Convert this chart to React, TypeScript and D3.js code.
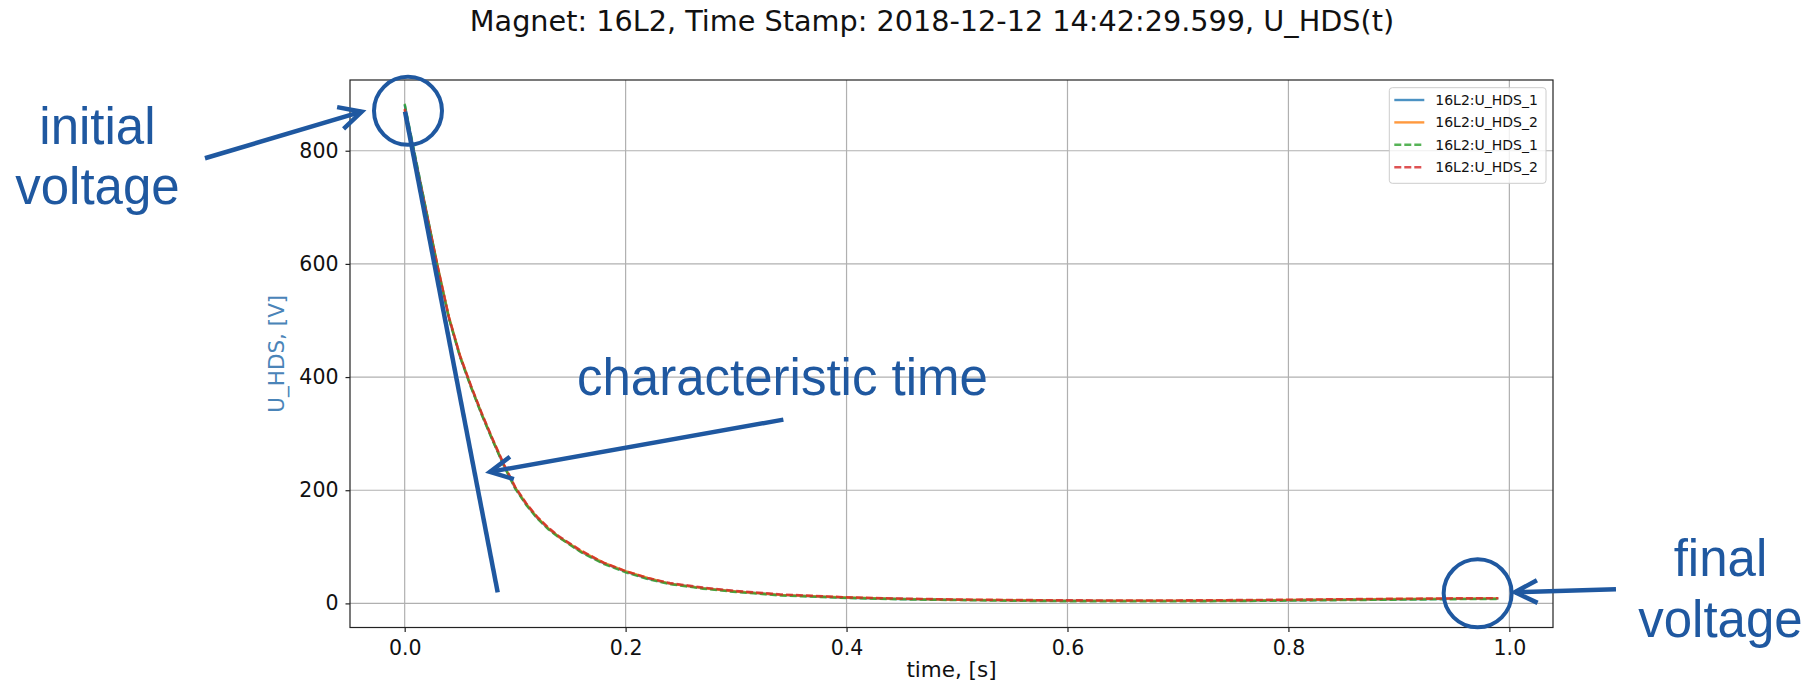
import React, { useRef, useEffect } from "react"
import * as d3 from "d3"

// time axis [s] and the four U_HDS traces [V]
const times = [0, 0.01, 0.02, 0.03, 0.04, 0.05, 0.06, 0.07, 0.08, 0.09, 0.10, 0.11, 0.12, 0.13, 0.14, 0.16, 0.18, 0.20, 0.22, 0.24, 0.27, 0.30, 0.34, 0.40, 0.45, 0.50, 0.55, 0.60, 0.65, 0.70, 0.75, 0.80, 0.85, 0.90, 0.95, 0.99]
const hds1 = [881, 785, 690, 593, 505, 437, 383, 333, 287, 243, 204, 175, 151, 132, 117, 91, 71, 56, 44, 35, 27, 21, 15, 10, 7.8, 6.3, 5.3, 4.6, 4.4, 4.4, 4.8, 5.6, 6.5, 7.3, 8.0, 8.4]
const hds2 = [872, 781, 688, 595, 507, 439, 384, 334, 288, 244, 205, 176, 152, 133, 117, 92, 72, 57, 45, 35, 27, 21, 15, 10.3, 8.0, 6.5, 5.6, 4.9, 4.7, 4.8, 5.2, 6.0, 6.9, 7.7, 8.4, 8.9]
const hds1Ref = [883, 786, 689, 592, 504, 436, 382, 332, 286, 242, 203, 174, 150, 131, 116, 90, 70, 55, 43, 34, 26, 20, 14, 9.6, 7.2, 5.8, 4.6, 3.8, 3.5, 3.6, 4.1, 4.9, 5.8, 6.6, 7.4, 7.9]
const hds2Ref = [874, 780, 687, 594, 506, 438, 385, 335, 289, 245, 206, 177, 153, 134, 118, 93, 72, 57, 45, 36, 28, 22, 16, 10.8, 8.6, 7.0, 6.1, 5.5, 5.3, 5.4, 5.9, 6.6, 7.5, 8.3, 9.0, 9.4]

const seriesValues = [hds1, hds2, hds1Ref, hds2Ref]
const seriesNames = ["16L2:U_HDS_1", "16L2:U_HDS_2", "16L2:U_HDS_1", "16L2:U_HDS_2"]
const seriesColors = ["#1f77b4", "#ff7f0e", "#2ca02c", "#d62728"]
const seriesDashed = [false, false, true, true]

const xTicks = [0, 0.2, 0.4, 0.6, 0.8, 1.0]
const yTicks = [0, 200, 400, 600, 800]

const title = "Magnet: 16L2, Time Stamp: 2018-12-12 14:42:29.599, U_HDS(t)"

// slide callouts, in data units so they follow the scales
const calloutColor = "#1f58a0"
const tangent = [[0.0003, 869], [0.0842, 19.6]]
const rings = [[0.003, 870.5], [0.9713, 17.8]]
const arrows = [
  { from: [-0.1808, 786.7], to: [-0.0389, 869] },
  { from: [0.3428, 324.8], to: [0.0772, 232.4] },
  { from: [1.0965, 25.1], to: [1.0051, 19.8] },
]
const callouts = [
  { text: "initial", t: -0.2781, u: 811.8 },
  { text: "voltage", t: -0.2781, u: 705.8 },
  { text: "characteristic time", t: 0.342, u: 368.3 },
  { text: "final", t: 1.1911, u: 48.4 },
  { text: "voltage", t: 1.1911, u: -58.8 },
]

export default function App() {
  const ref = useRef(null)

  useEffect(() => {
    const width = 1812, height = 692
    const plot = { left: 350, right: 1553, top: 80, bottom: 627.5 }
    const mpl = "DejaVu Sans, sans-serif"

    const svg = d3.select(ref.current).attr("width", width).attr("height", height)
    svg.selectAll("*").remove()

    const x = d3.scaleLinear().domain([-0.0495, 1.0395]).range([plot.left, plot.right])
    const y = d3.scaleLinear().domain([-42.6, 925]).range([plot.bottom, plot.top])

    svg.append("rect").attr("width", width).attr("height", height).attr("fill", "white")

    svg.append("text")
      .attr("x", 932).attr("y", 31)
      .attr("text-anchor", "middle")
      .style("font-family", mpl).style("font-size", "28.7px").attr("fill", "#111")
      .text(title)

    // grid
    const grid = svg.append("g").attr("stroke", "#b0b0b0").attr("stroke-width", 1.2)
    grid.selectAll(".gx").data(xTicks).enter().append("line")
      .attr("x1", d => x(d)).attr("x2", d => x(d))
      .attr("y1", plot.top).attr("y2", plot.bottom)
    grid.selectAll(".gy").data(yTicks).enter().append("line")
      .attr("x1", plot.left).attr("x2", plot.right)
      .attr("y1", d => y(d)).attr("y2", d => y(d))

    // traces
    const clipId = "plot-clip"
    svg.append("clipPath").attr("id", clipId).append("rect")
      .attr("x", plot.left).attr("y", plot.top)
      .attr("width", plot.right - plot.left).attr("height", plot.bottom - plot.top)

    const line = d3.line<number>()
      .x((d, i) => x(times[i]))
      .y(d => y(d))

    svg.append("g").attr("clip-path", `url(#${clipId})`)
      .selectAll("path").data(seriesValues).enter().append("path")
      .attr("d", d => line(d))
      .attr("fill", "none")
      .attr("stroke", (d, i) => seriesColors[i])
      .attr("stroke-opacity", 0.8)
      .attr("stroke-width", 2.4)
      .attr("stroke-dasharray", (d, i) => seriesDashed[i] ? "7,3" : null)

    // spines
    svg.append("rect")
      .attr("x", plot.left).attr("y", plot.top)
      .attr("width", plot.right - plot.left).attr("height", plot.bottom - plot.top)
      .attr("fill", "none").attr("stroke", "#222").attr("stroke-width", 1.2)

    // x axis
    const xAxis = svg.append("g").attr("transform", `translate(0,${plot.bottom})`)
      .call(d3.axisBottom(x).tickValues(xTicks).tickFormat(d3.format(".1f")).tickSize(4.5).tickPadding(8))
    xAxis.select(".domain").remove()
    xAxis.selectAll("line").attr("stroke", "#222").attr("stroke-width", 1.2)
    xAxis.selectAll("text").style("font-family", mpl).style("font-size", "20.5px").attr("fill", "#111")

    // y axis
    const yAxis = svg.append("g").attr("transform", `translate(${plot.left},0)`)
      .call(d3.axisLeft(y).tickValues(yTicks).tickFormat(d3.format("d")).tickSize(4.5).tickPadding(7))
    yAxis.select(".domain").remove()
    yAxis.selectAll("line").attr("stroke", "#222").attr("stroke-width", 1.2)
    yAxis.selectAll("text").style("font-family", mpl).style("font-size", "20.5px").attr("fill", "#111")

    svg.append("text")
      .attr("x", (plot.left + plot.right) / 2).attr("y", 677)
      .attr("text-anchor", "middle")
      .style("font-family", mpl).style("font-size", "21.5px").attr("fill", "#111")
      .text("time, [s]")

    svg.append("text")
      .attr("transform", `translate(284,${(plot.top + plot.bottom) / 2}) rotate(-90)`)
      .attr("text-anchor", "middle")
      .style("font-family", mpl).style("font-size", "21.5px").attr("fill", "#4a84b8")
      .text("U_HDS, [V]")

    // legend
    const legend = svg.append("g").attr("transform", "translate(1389.3,87.7)")
    legend.append("rect")
      .attr("width", 156.7).attr("height", 95.6).attr("rx", 3)
      .attr("fill", "white").attr("fill-opacity", 0.8)
      .attr("stroke", "#cccccc").attr("stroke-width", 1)
    const rows = legend.selectAll(".row").data(seriesNames).enter().append("g")
      .attr("transform", (d, i) => `translate(0,${12.3 + i * 22.4})`)
    rows.append("line")
      .attr("x1", 5).attr("x2", 35)
      .attr("stroke", (d, i) => seriesColors[i])
      .attr("stroke-opacity", 0.8)
      .attr("stroke-width", 2.4)
      .attr("stroke-dasharray", (d, i) => seriesDashed[i] ? "7,3" : null)
    rows.append("text")
      .attr("x", 46).attr("y", 5)
      .style("font-family", mpl).style("font-size", "14px").attr("fill", "#111")
      .text(d => d)

    // callouts on top
    const notes = svg.append("g")
      .attr("stroke", calloutColor).attr("fill", "none").attr("stroke-width", 4.5)

    notes.append("line")
      .attr("x1", x(tangent[0][0])).attr("y1", y(tangent[0][1]))
      .attr("x2", x(tangent[1][0])).attr("y2", y(tangent[1][1]))

    notes.selectAll("circle").data(rings).enter().append("circle")
      .attr("cx", d => x(d[0])).attr("cy", d => y(d[1])).attr("r", 34)
      .attr("stroke-width", 4)

    arrows.forEach(a => {
      const x0 = x(a.from[0]), y0 = y(a.from[1])
      const x1 = x(a.to[0]), y1 = y(a.to[1])
      const back = Math.atan2(y0 - y1, x0 - x1)
      const len = 25, spread = (27 * Math.PI) / 180
      notes.append("line").attr("x1", x0).attr("y1", y0).attr("x2", x1).attr("y2", y1)
      notes.append("path")
        .attr("stroke-linejoin", "miter")
        .attr("d", d3.line()([
          [x1 + len * Math.cos(back - spread), y1 + len * Math.sin(back - spread)],
          [x1, y1],
          [x1 + len * Math.cos(back + spread), y1 + len * Math.sin(back + spread)],
        ]))
    })

    svg.append("g").selectAll("text").data(callouts).enter().append("text")
      .attr("x", d => x(d.t)).attr("y", d => y(d.u))
      .attr("text-anchor", "middle")
      .style("font-family", "Liberation Sans, Arial, sans-serif").style("font-size", "51px")
      .attr("fill", calloutColor)
      .text(d => d.text)
  }, [])

  return (
    <svg
      ref={ref}
      style={{ position: "absolute", left: 0, top: 0, display: "block" }}
    ></svg>
  )
}
